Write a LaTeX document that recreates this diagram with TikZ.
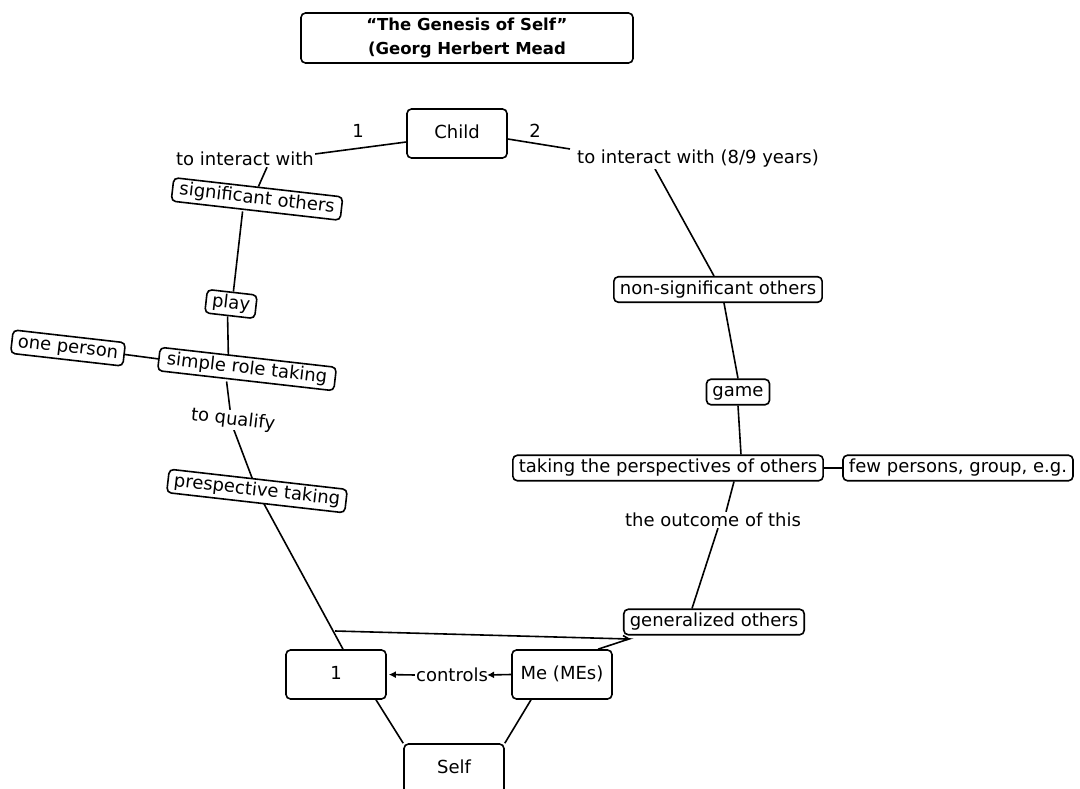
\documentclass[tikz,border=0pt]{standalone}
\usepackage{fontspec}
\setmainfont{DejaVu Sans}
\usetikzlibrary{arrows.meta,backgrounds}
\tikzset{
  txt/.style={font=\fontsize{18}{21}\selectfont, inner sep=1pt, fill=white},
  box/.style={txt, draw, rounded corners=4.5pt, line width=1.6pt, inner xsep=6pt, inner ysep=4pt, text height=13.5pt, text depth=4pt},
  bigbox/.style={box, minimum width=100pt, minimum height=49pt},
  conn/.style={line width=1.6pt},
  arr/.style={conn, -{Latex[length=7pt,width=7pt]}},
  tilt/.style={rotate=-6.5, inner ysep=3pt}
}
\begin{document}
\begin{tikzpicture}[x=1pt,y=-1pt]
\useasboundingbox (0,0) rectangle (1080,789);
% nodes
\node[draw, rounded corners=4.5pt, line width=1.6pt, fill=white, font=\fontsize{16.5}{24}\selectfont\bfseries, align=center, minimum width=332pt, minimum height=50pt, inner sep=2pt] (title) at (467,38) {“The Genesis of Self”\\(Georg Herbert Mead};
\node[bigbox] (child) at (457,133.5) {Child};
\node[txt] (l1) at (358,131) {1};
\node[txt] (l2) at (535,131) {2};
\node[txt] (tiw1) at (245,159) {to interact with};
\node[txt] (tiw2) at (698,159) {to interact with (8/9 years)};
\node[box, tilt, inner xsep=7pt] (sig) at (257,199) {significant others};
\node[box, tilt] (play) at (231,304) {play};
\node[box, tilt, inner xsep=8pt] (srt) at (247,369) {simple role taking};
\node[box, tilt] (onep) at (68,348) {one person};
\node[txt, tilt, inner sep=1pt] (toq) at (233,420) {to qualify};
\node[box, tilt] (prsp) at (257,491) {prespective taking};
\node[box] (nonsig) at (718,289.5) {non-significant others};
\node[box] (game) at (738,392) {game};
\node[box] (taking) at (668,468) {taking the perspectives of others};
\node[box] (few) at (958,468) {few persons, group, e.g.};
\node[txt] (outcome) at (713,520) {the outcome of this};
\node[box] (genoth) at (714,622) {generalized others};
\node[bigbox] (one) at (336,674.5) {1};
\node[bigbox] (me) at (562,674.5) {Me (MEs)};
\node[txt] (controls) at (452,675) {controls};
\node[bigbox] (self) at (454,768.5) {Self};
\coordinate (jl) at (335,631);
\coordinate (jr) at (629,639);
% connectors
\begin{pgfonlayer}{background}
\draw[conn] ([yshift=-8.5pt]child.west) -- ([yshift=5pt]tiw1.east);
\draw[conn] ([yshift=-5.5pt]child.east) -- ([xshift=-6pt,yshift=10pt]tiw2.west);
\draw[conn] ([xshift=22pt]tiw1.south) -- (sig.north);
\draw[conn] ([xshift=-13pt]sig.south) -- ([xshift=1pt]play.north);
\draw[conn] ([xshift=-2pt]play.south) -- ([xshift=-20pt,yshift=-2pt]srt.north);
\draw[conn] (onep.east) -- (srt.west);
\draw[conn] ([xshift=-19pt]srt.south) -- ([xshift=-4pt]toq.north);
\draw[conn] ([xshift=2pt]toq.south) -- (prsp.center);
\draw[conn] (prsp.center) -- ([xshift=7pt]one.north);
\draw[conn] (jl) -- (jr) -- ([xshift=36pt]me.north);
\draw[conn] (jr) -- (genoth.south west);
\draw[conn] ([xshift=-43pt]tiw2.south) -- ([xshift=-4pt]nonsig.north);
\draw[conn] ([xshift=6pt]nonsig.south) -- (game.north);
\draw[conn] (game.south) -- ([xshift=73pt]taking.north);
\draw[conn] ([xshift=66pt]taking.south) -- ([xshift=13pt]outcome.north);
\draw[conn] ([xshift=5pt]outcome.south) -- ([xshift=-22pt]genoth.north);
\draw[conn] (taking.east) -- (few.west);
\draw[conn] ([xshift=40pt]one.south) -- (self.north west);
\draw[conn] ([xshift=-31pt]me.south) -- (self.north east);
\end{pgfonlayer}
\draw[arr] (me.west) -- ([xshift=-2pt]controls.east);
\draw[arr, shorten >=2pt] (controls.west) -- (one.east);
\end{tikzpicture}
\end{document}
